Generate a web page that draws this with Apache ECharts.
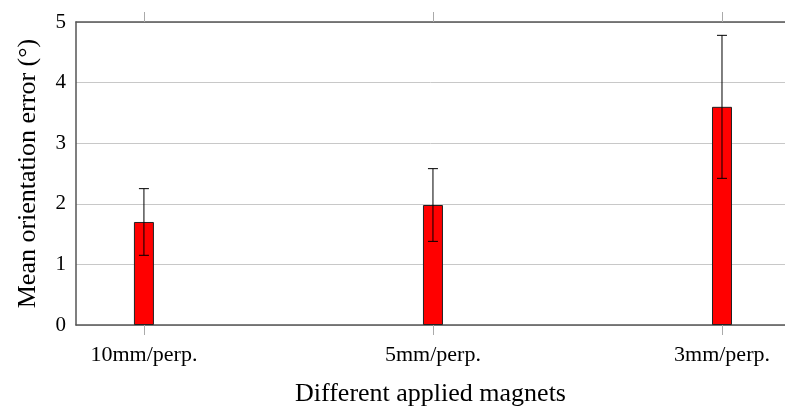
<!DOCTYPE html>
<html><head><meta charset="utf-8">
<script src="https://cdn.jsdelivr.net/npm/echarts@6/dist/echarts.min.js"></script>
<style>html,body{margin:0;padding:0;background:#fff}#c{width:785px;height:407px}</style>
</head><body><div id="c"></div>
<script>
const categories = ['10mm/perp.', '5mm/perp.', '3mm/perp.'];
const means = [1.70, 1.98, 3.60];
const errors = [0.55, 0.60, 1.18];
const yTicks = [0, 1, 2, 3, 4, 5];

const FONT = 'Liberation Serif';
const chart = echarts.init(document.getElementById('c'));
const pos = categories.map((c, i) => i);
const barData = pos.map((x, i) => [x, means[i]]);
const errData = pos.map((x, i) => [x, means[i] - errors[i], means[i] + errors[i]]);

const xCommon = {
  type: 'value', min: -0.235, max: 2.218,
  splitLine: { show: false },
  axisLine: { show: true, onZero: false, lineStyle: { color: '#555', width: 1.5 } },
  axisTick: { show: true, customValues: pos, length: 10, inside: false, lineStyle: { color: '#aaa', width: 1 } }
};

chart.setOption({
  animation: false,
  grid: { left: 76, top: 22, right: 0, height: 303, containLabel: false, outerBoundsMode: 'none' },
  xAxis: [
    Object.assign({}, xCommon, {
      position: 'bottom',
      name: 'Different applied magnets', nameLocation: 'middle', nameGap: 56,
      nameTextStyle: { fontFamily: FONT, fontSize: 26, color: '#000' },
      axisLabel: { customValues: pos, formatter: v => categories[Math.round(v)], fontFamily: FONT, fontSize: 22, color: '#000', margin: 19 }
    }),
    Object.assign({}, xCommon, {
      position: 'top',
      axisLabel: { show: false }
    })
  ],
  yAxis: {
    type: 'value', min: yTicks[0], max: yTicks[yTicks.length - 1], interval: 1,
    name: 'Mean orientation error (°)', nameLocation: 'middle', nameGap: 35,
    nameTextStyle: { fontFamily: FONT, fontSize: 26, color: '#000' },
    axisLine: { show: true, onZero: false, lineStyle: { color: '#555', width: 1.5 } },
    axisTick: { show: false },
    axisLabel: { fontFamily: FONT, fontSize: 21, color: '#000', margin: 10 },
    splitLine: { show: true, lineStyle: { color: '#c8c8c8', width: 1 } }
  },
  series: [
    {
      type: 'bar', xAxisIndex: 0, data: barData, barWidth: 20,
      itemStyle: { color: '#ff0000', borderColor: '#222', borderWidth: 1 }
    },
    {
      type: 'custom', xAxisIndex: 0, data: errData, z: 10,
      renderItem: function (params, api) {
        const x = api.value(0);
        const lo = api.coord([x, api.value(1)]);
        const hi = api.coord([x, api.value(2)]);
        const cap = 5;
        const st = { stroke: '#000', lineWidth: 1 };
        return {
          type: 'group', children: [
            { type: 'line', shape: { x1: hi[0], y1: hi[1], x2: lo[0], y2: lo[1] }, style: st },
            { type: 'line', shape: { x1: hi[0] - cap, y1: hi[1], x2: hi[0] + cap, y2: hi[1] }, style: st },
            { type: 'line', shape: { x1: lo[0] - cap, y1: lo[1], x2: lo[0] + cap, y2: lo[1] }, style: st }
          ]
        };
      }
    }
  ]
});
</script></body></html>
